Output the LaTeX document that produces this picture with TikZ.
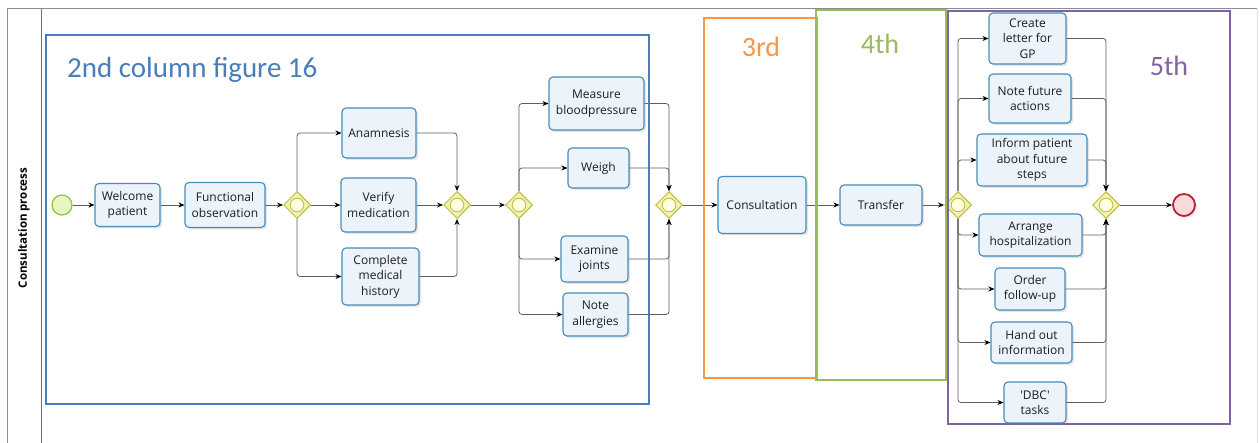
\documentclass[tikz,border=0pt]{standalone}
\usepackage{fontspec}
\setmainfont{Open Sans}
\newfontfamily\calib{Carlito}
\usetikzlibrary{shapes.geometric,arrows.meta,shadows}

\definecolor{poolgray}{RGB}{140,140,140}
\definecolor{taskborder}{RGB}{72,140,185}
\definecolor{taskfill}{RGB}{236,243,251}
\definecolor{flowgray}{RGB}{95,95,95}
\definecolor{gwborder}{RGB}{188,188,60}
\definecolor{gwfill}{RGB}{242,242,178}
\definecolor{gwinner}{RGB}{255,255,228}
\definecolor{startdraw}{RGB}{140,198,63}
\definecolor{startfill}{RGB}{232,246,196}
\definecolor{enddraw}{RGB}{190,30,45}
\definecolor{endfill}{RGB}{247,218,220}
\definecolor{boxblue}{RGB}{74,126,187}
\definecolor{boxorange}{RGB}{247,150,70}
\definecolor{boxgreen}{RGB}{155,187,89}
\definecolor{boxpurple}{RGB}{128,100,162}
\definecolor{tasktext}{RGB}{30,30,30}

\begin{document}
\begin{tikzpicture}[x=1pt,y=-1pt,
  task/.style={draw=taskborder, line width=1.1pt, rounded corners=4pt,
    fill=taskfill, align=center, inner sep=1pt, text=tasktext,
    font=\fontsize{12}{15.5}\selectfont,
    drop shadow={opacity=0.2, shadow xshift=2pt, shadow yshift=-2pt}},
  gw/.style={diamond, aspect=1, draw=gwborder, fill=gwfill, line width=1pt,
    minimum width=27pt, minimum height=27pt, inner sep=0pt,
    path picture={\draw[gwborder, fill=gwinner, line width=0.8pt]
      (path picture bounding box.center) circle (6.8pt);}},
  startev/.style={circle, draw=startdraw, fill=startfill, line width=1.2pt,
    minimum size=20pt, inner sep=0pt},
  endev/.style={circle, draw=enddraw, fill=endfill, line width=1.8pt,
    minimum size=22pt, inner sep=0pt,
    drop shadow={opacity=0.15, shadow xshift=2pt, shadow yshift=-2pt}},
  flow/.style={draw=flowgray, line width=0.8pt, rounded corners=3pt,
    -{Stealth[length=6pt, width=5pt, color=black]}},
  colbox/.style={line width=1.5pt},
  coltitle/.style={anchor=base, inner sep=0pt, font=\calib\fontsize{28}{34}\selectfont}
]
\useasboundingbox (0,0) rectangle (1260,443);
\fill[white] (0,0) rectangle (1260,443);

% pool and lane frame
\draw[poolgray, line width=1pt] (7,450) -- (7,9) -- (1257,9);
\draw[poolgray!25, line width=0.8pt] (1257,9) -- (1257,450);
\draw[poolgray!80!black, line width=0.8pt] (41,9) -- (41,450);
\node[rotate=90, font=\bfseries\fontsize{11.5}{13}\selectfont] (lane) at (24,228) {Consultation process};

% events and gateways
\node[startev] (start) at (62,205) {};
\node[endev] (end) at (1184,205) {};
\node[gw] (g1) at (297,205) {};
\node[gw] (g2) at (457,205) {};
\node[gw] (g3) at (519,205) {};
\node[gw] (g4) at (669,205) {};
\node[gw] (g5) at (958,205) {};
\node[gw] (g6) at (1106,205) {};

% tasks
\node[task, minimum width=65pt, minimum height=43pt] (welcome) at (127.5,205) {Welcome\\patient};
\node[task, minimum width=80pt, minimum height=45pt] (func) at (225,205) {Functional\\observation};
\node[task, minimum width=74pt, minimum height=50pt] (anam) at (379,133) {Anamnesis};
\node[task, minimum width=75pt, minimum height=54pt] (verify) at (378.5,205) {Verify\\medication};
\node[task, minimum width=77pt, minimum height=57pt] (complete) at (380.5,276.5) {Complete\\medical\\history};
\node[task, minimum width=95pt, minimum height=53pt] (measure) at (596.5,103.5) {Measure\\bloodpressure};
\node[task, minimum width=61pt, minimum height=40pt] (weigh) at (598.5,168) {Weigh};
\node[task, minimum width=67pt, minimum height=46pt] (examine) at (594.5,259) {Examine\\joints};
\node[task, minimum width=65pt, minimum height=43pt] (allerg) at (595.5,314.5) {Note\\allergies};
\node[task, minimum width=88pt, minimum height=57pt] (consult) at (762,205) {Consultation};
\node[task, minimum width=82pt, minimum height=40pt] (transfer) at (881,205) {Transfer};
\node[task, minimum width=77pt, minimum height=51pt] (letter) at (1027.5,38.5) {Create\\letter for\\GP};
\node[task, minimum width=82pt, minimum height=49pt] (future) at (1030,98.5) {Note future\\actions};
\node[task, minimum width=110pt, minimum height=52pt] (inform) at (1032,160) {Inform patient\\about future\\steps};
\node[task, minimum width=103pt, minimum height=42pt] (hosp) at (1030.5,235) {Arrange\\hospitalization};
\node[task, minimum width=70pt, minimum height=42pt] (follow) at (1030,289) {Order\\follow-up};
\node[task, minimum width=81pt, minimum height=41pt] (handout) at (1031.5,342.5) {Hand out\\information};
\node[task, minimum width=62pt, minimum height=41pt] (dbc) at (1035,402.5) {\textquotesingle DBC\textquotesingle\\tasks};

% main sequence
\draw[flow] (start) -- (welcome);
\draw[flow] (welcome) -- (func);
\draw[flow] (func) -- (g1);
\draw[flow] (g2) -- (g3);
\draw[flow] (g4) -- (consult);
\draw[flow] (consult) -- (transfer);
\draw[flow] (transfer) -- (g5);
\draw[flow] (g6) -- (end);

% first parallel block
\draw[flow] (g1.north) |- (anam);
\draw[flow] (g1) -- (verify);
\draw[flow] (g1.south) |- (complete);
\draw[flow] (anam) -| (g2.north);
\draw[flow] (verify) -- (g2);
\draw[flow] (complete) -| (g2.south);

% second parallel block
\draw[flow] (g3.north) |- (measure);
\draw[flow] (g3.north) |- (weigh);
\draw[flow] (g3.south) |- (examine);
\draw[flow] (g3.south) |- (allerg);
\draw[flow] (measure) -| (g4.north);
\draw[flow] (weigh) -| (g4.north);
\draw[flow] (examine) -| (g4.south);
\draw[flow] (allerg) -| (g4.south);

% closing parallel block
\draw[flow] (g5.north) |- (letter);
\draw[flow] (g5.north) |- (future);
\draw[flow] (g5.north) |- (inform);
\draw[flow] (g5.south) |- (hosp);
\draw[flow] (g5.south) |- (follow);
\draw[flow] (g5.south) |- (handout);
\draw[flow] (g5.south) |- (dbc);
\draw[flow] (letter) -| (g6.north);
\draw[flow] (future) -| (g6.north);
\draw[flow] (inform) -| (g6.north);
\draw[flow] (hosp) -| (g6.south);
\draw[flow] (follow) -| (g6.south);
\draw[flow] (handout) -| (g6.south);
\draw[flow] (dbc) -| (g6.south);

% column outlines and their titles
\draw[colbox, boxblue] (46,35) rectangle (649,404);
\draw[colbox, boxorange] (704,18) rectangle (817,378);
\draw[colbox, boxgreen] (816,10) rectangle (946,380);
\draw[colbox, boxpurple] (948,11) rectangle (1230,424);
\node[coltitle, anchor=base west, text=boxblue, font=\calib\fontsize{29}{34}\selectfont] (t2) at (67,78) {2nd column figure 16};
\node[coltitle, text=boxorange] (t3) at (761,57) {3rd};
\node[coltitle, text=boxgreen] (t4) at (880,54) {4th};
\node[coltitle, text=boxpurple] (t5) at (1169,76) {5th};
\end{tikzpicture}
\end{document}
